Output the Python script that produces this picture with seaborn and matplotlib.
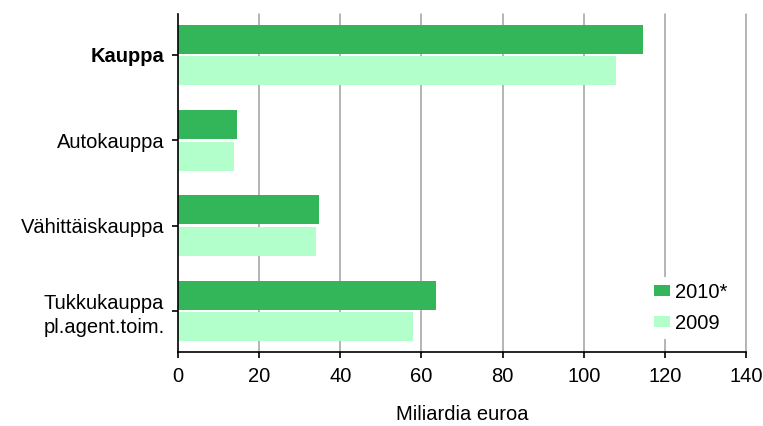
import pandas as pd
import matplotlib
matplotlib.use("Agg")
import matplotlib.pyplot as plt
import seaborn as sns

# Liikevaihto toimialoittain, miljardia euroa
kategoriat = ["Kauppa", "Autokauppa", "Vähittäiskauppa", "Tukkukauppa\npl.agent.toim."]
arvot_2010 = [114.7, 14.6, 34.7, 63.5]
arvot_2009 = [107.9, 13.8, 33.9, 58.0]
vuodet = ["2010*", "2009"]
varit = ["#33b55a", "#b3ffcc"]
x_tikit = [0, 20, 40, 60, 80, 100, 120, 140]

df = pd.DataFrame({
    "toimiala": kategoriat * 2,
    "arvo": arvot_2010 + arvot_2009,
    "vuosi": [vuodet[0]] * len(kategoriat) + [vuodet[1]] * len(kategoriat),
})

sns.set_style("white")
plt.rcParams["font.family"] = ["Liberation Sans", "DejaVu Sans"]
plt.rcParams["text.color"] = "black"
plt.rcParams["axes.labelcolor"] = "black"
plt.rcParams["xtick.color"] = "black"
plt.rcParams["ytick.color"] = "black"

fig = plt.figure(figsize=(7.63, 4.26), dpi=100)
ax = fig.add_axes([178 / 763, 1 - 352 / 426, (746 - 178) / 763, (352 - 14) / 426])

sns.barplot(data=df, y="toimiala", x="arvo", hue="vuosi", hue_order=vuodet,
            palette=varit, orient="h", width=0.74, gap=0.08, linewidth=0,
            saturation=1, ax=ax, zorder=2)

ax.set_xlim(0, 140)
ax.set_ylim(3.48, -0.48)
ax.set_xticks(x_tikit)
ax.set_xticklabels([str(t) for t in x_tikit], fontsize=14.5)
for t in x_tikit[1:]:
    ax.axvline(t, color="#a0a0a0", lw=1.1, zorder=0, clip_on=False)

for s in ["top", "right"]:
    ax.spines[s].set_visible(False)
for s in ["left", "bottom"]:
    ax.spines[s].set_color("black")
    ax.spines[s].set_linewidth(1.2)

ax.tick_params(axis="both", direction="out", length=4.5, width=1.2, color="black",
               labelcolor="black", bottom=True, left=True)
ax.tick_params(axis="x", pad=6)
ax.tick_params(axis="y", pad=5)
for lab in ax.get_yticklabels():
    lab.set_fontsize(14.5)
    lab.set_linespacing(1.3)
    lab.set_multialignment("center")
ax.get_yticklabels()[0].set_fontweight("bold")

ax.set_ylabel("")
ax.set_xlabel("Miliardia euroa", fontsize=14.5, labelpad=14, color="black")

leg = ax.legend(loc="center left", bbox_to_anchor=(638 / 763, 1 - 308 / 426),
                bbox_transform=fig.transFigure, frameon=True, fancybox=False,
                framealpha=1, edgecolor="none", fontsize=14.5,
                handlelength=0.8, handleheight=0.45, handletextpad=0.25,
                labelspacing=0.6, borderpad=0.3)
for txt in leg.get_texts():
    txt.set_color("black")
leg.set_zorder(5)

fig.savefig("out.png", dpi=100)
